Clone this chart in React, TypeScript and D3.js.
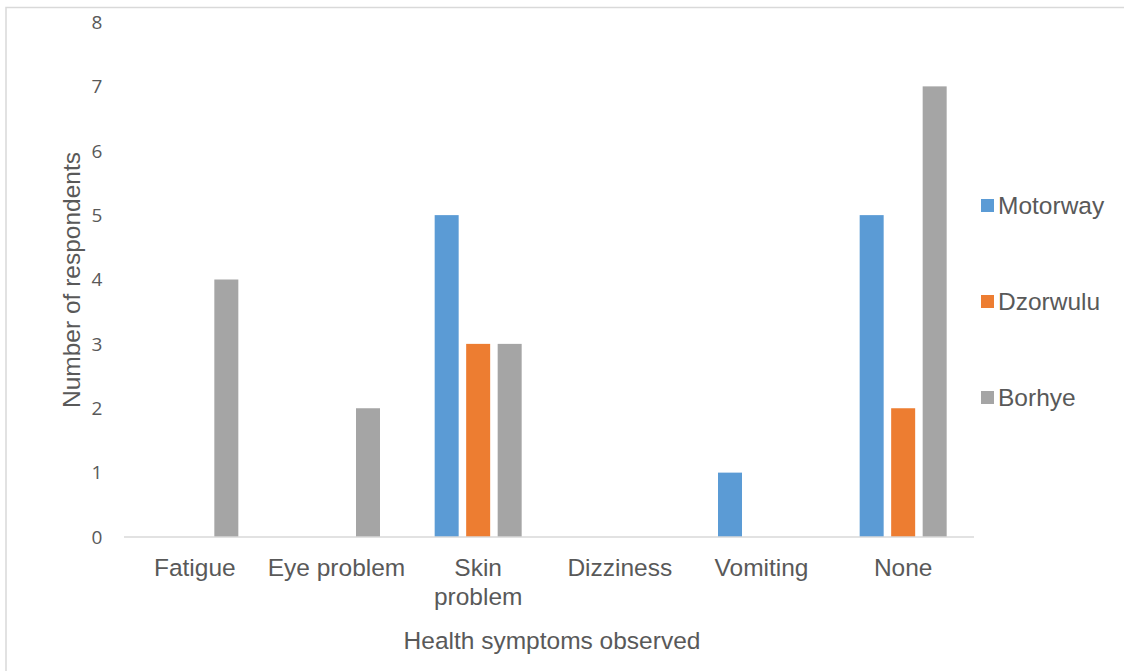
import React from "react";
import * as d3 from "d3";

const categories = ["Fatigue", "Eye problem", "Skin problem", "Dizziness", "Vomiting", "None"];
const categoryLines: string[][] = [["Fatigue"], ["Eye problem"], ["Skin", "problem"], ["Dizziness"], ["Vomiting"], ["None"]];
const seriesNames = ["Motorway", "Dzorwulu", "Borhye"];
const motorway = [0, 0, 5, 0, 1, 5];
const dzorwulu = [0, 0, 3, 0, 0, 2];
const borhye = [4, 2, 3, 0, 0, 7];
const yTicks = [0, 1, 2, 3, 4, 5, 6, 7, 8];
const colors = ["#5b9bd5", "#ed7d31", "#a5a5a5"];

const W = 1124;
const H = 671;
const plot = { left: 124, right: 974, top: 22, bottom: 537 };
const font = "'Liberation Sans', Arial, sans-serif";
const tickFont = "'Open Sans', 'Liberation Sans', sans-serif";
const textColor = "#595959";
const groupW = 87;

export default function App() {
  const series = [motorway, dzorwulu, borhye];
  const x0 = d3.scaleBand<string>().domain(categories).range([plot.left, plot.right]).padding(0);
  const x1 = d3.scaleBand<string>().domain(seriesNames).range([0, groupW]).paddingInner(0.238).paddingOuter(0);
  const y = d3.scaleLinear().domain([0, 8]).range([plot.bottom, plot.top]);
  const cx = (c: string) => (x0(c) as number) + x0.bandwidth() / 2;

  return (
    <svg width={W} height={H} style={{ position: "absolute", left: 0, top: 0, background: "#fff" }}>
      <rect x={6} y={7.5} width={W + 20} height={H + 20} fill="#fff" stroke="#d9d9d9" strokeWidth={1.5} />
      {yTicks.map((t) => (
        <text key={t} x={97} y={y(t)} dy="0.36em" textAnchor="middle" fontFamily={tickFont} fontSize={19} fill={textColor}>
          {t}
        </text>
      ))}
      {categories.map((c, i) => {
        const gx = cx(c) - groupW / 2;
        return series.map((s, j) =>
          s[i] > 0 ? (
            <rect
              key={c + j}
              x={gx + (x1(seriesNames[j]) as number)}
              y={y(s[i])}
              width={x1.bandwidth()}
              height={y(0) - y(s[i])}
              fill={colors[j]}
            />
          ) : null
        );
      })}
      <line x1={plot.left} x2={plot.right} y1={plot.bottom} y2={plot.bottom} stroke="#d9d9d9" strokeWidth={1.5} />
      {categories.map((c, i) => (
        <text key={c} x={cx(c)} y={576} textAnchor="middle" fontFamily={font} fontSize={24.5} fill={textColor}>
          {categoryLines[i].map((line, k) => (
            <tspan key={k} x={cx(c)} dy={k === 0 ? 0 : 29}>
              {line}
            </tspan>
          ))}
        </text>
      ))}
      <text x={552} y={649} textAnchor="middle" fontFamily={font} fontSize={24.5} fill={textColor}>
        Health symptoms observed
      </text>
      <text transform={`translate(80,280) rotate(-90)`} textAnchor="middle" fontFamily={font} fontSize={24.5} fill={textColor}>
        Number of respondents
      </text>
      {seriesNames.map((n, j) => (
        <g key={n} transform={`translate(981,${205 + j * 96})`}>
          <rect x={0} y={-6} width={13} height={13} fill={colors[j]} />
          <text x={17} y={0} dy="0.36em" fontFamily={font} fontSize={24.5} fill={textColor}>
            {n}
          </text>
        </g>
      ))}
    </svg>
  );
}
